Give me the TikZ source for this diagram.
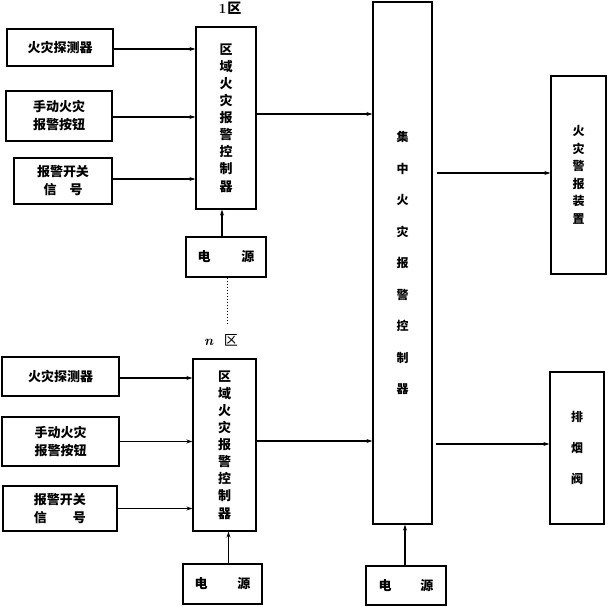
\documentclass[tikz,border=0pt]{standalone}
\usepackage{fontspec}
\newfontfamily\cjk{Noto Sans CJK SC}
\usetikzlibrary{arrows.meta}
\tikzset{
  box/.style={draw, line width=1.3pt, inner sep=0pt, align=center,
    font=\cjk\bfseries\fontsize{13}{18}\selectfont},
  zonebox/.style={box, font=\cjk\bfseries\fontsize{13}{17.1}\selectfont},
  tallbox/.style={box, font=\cjk\bfseries\fontsize{12}{31.5}\selectfont},
  alarmbox/.style={box, font=\cjk\bfseries\fontsize{12}{17.5}\selectfont},
  link/.style={line width=1.1pt, -{Stealth[length=6pt,width=4pt]}},
  lbl/.style={inner sep=0pt, font=\fontsize{14}{16}\selectfont}
}
\begin{document}
\begin{tikzpicture}[x=1pt,y=-1pt]
\useasboundingbox[fill=white] (0,0) rectangle (608,607);
% zone 1
\node[box, minimum width=106pt, minimum height=37pt] (d1) at (60,47.5) {火灾探测器};
\node[box, minimum width=106pt, minimum height=50pt] (m1) at (59,116) {手动火灾\\报警按钮};
\node[box, minimum width=98pt, minimum height=46pt] (s1) at (63,181) {报警开关\\信　号};
\node[zonebox, minimum width=60pt, minimum height=182pt] (z1) at (226,118) {区\\域\\火\\灾\\报\\警\\控\\制\\器};
\node[box, minimum width=80pt, minimum height=40pt] (p1) at (226,257) {电\hspace{31pt}源};
\node[lbl] (l1) at (230,8.5) {\textbf{1}\hspace{1pt}{\cjk\bfseries 区}};
% zone n
\node[box, minimum width=117pt, minimum height=39pt] (d2) at (60.5,376.5) {火灾探测器};
\node[box, minimum width=117pt, minimum height=49pt] (m2) at (60.5,441.5) {手动火灾\\报警按钮};
\node[box, minimum width=114pt, minimum height=45pt] (s2) at (60,508.5) {报警开关\\信　　号};
\node[zonebox, minimum width=63pt, minimum height=172pt] (zn) at (224.5,445) {区\\域\\火\\灾\\报\\警\\控\\制\\器};
\node[box, minimum width=79pt, minimum height=40pt] (pn) at (222.5,584) {电\hspace{30pt}源};
\node[lbl] (ln) at (221,340) {\textbf{\textit{n}}\hspace{10pt}{\cjk 区}};
% central
\node[tallbox, minimum width=59pt, minimum height=522pt] (c) at (402.5,263) {集\\中\\火\\灾\\报\\警\\控\\制\\器};
\node[box, minimum width=80pt, minimum height=39pt] (pc) at (406,585.5) {电\hspace{29pt}源};
% outputs
\node[alarmbox, minimum width=55pt, minimum height=198pt] (a) at (578.5,175) {火\\灾\\警\\报\\装\\置};
\node[tallbox, font=\cjk\bfseries\fontsize{12}{31}\selectfont, minimum width=54pt, minimum height=152pt] (v) at (577,448) {排\\烟\\阀};
% connectors zone 1
\draw[link] ([yshift=-1.5pt]d1.east) -- ([yshift=-1.5pt]z1.west |- d1.east);
\draw[link] ([yshift=-1pt]m1.east) -- ([yshift=-1pt]z1.west |- m1.east);
\draw[link] ([yshift=2pt]s1.east) -- ([yshift=2pt]z1.west |- s1.east);
\draw[link] ([xshift=-4pt]p1.north) -- ([xshift=-4pt]p1.north |- z1.south);
\coordinate (dotend) at (227,325);
\draw[line width=1pt, dotted] ([xshift=1pt]p1.south) -- (dotend);
\draw[link] ([yshift=4pt]z1.east) -- ([yshift=4pt]c.west |- z1.east);
% connectors zone n
\draw[link] ([yshift=-1.5pt]d2.east) -- ([yshift=-1.5pt]zn.west |- d2.east);
\draw[link] ([yshift=0pt]m2.east) -- ([yshift=0pt]zn.west |- m2.east);
\draw[link] ([yshift=0pt]s2.east) -- ([yshift=0pt]zn.west |- s2.east);
\draw[link] ([xshift=6pt]pn.north) -- ([xshift=6pt]pn.north |- zn.south);
\draw[link] ([yshift=4pt]zn.east) -- ([yshift=4pt]c.west |- zn.east);
% central connectors
\draw[link] ([xshift=-1pt]pc.north) -- ([xshift=-1pt]pc.north |- c.south);
\coordinate (ain) at ([yshift=2pt]a.west);
\draw[link] ([xshift=4pt]c.east |- ain) -- (ain);
\coordinate (vin) at ([yshift=4pt]v.west);
\draw[link] ([xshift=3pt]c.east |- vin) -- (vin);
\end{tikzpicture}
\end{document}
